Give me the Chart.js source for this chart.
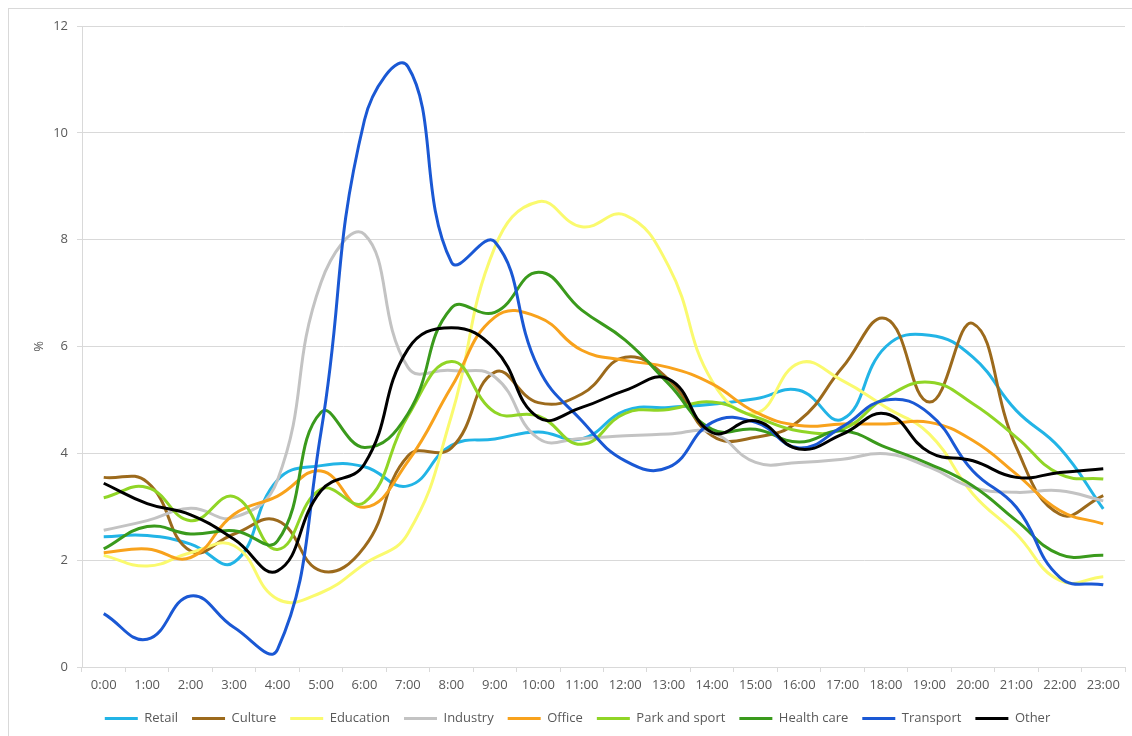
<!DOCTYPE html>
<html><head><meta charset="utf-8">
<script src="https://cdn.jsdelivr.net/npm/chart.js@4.4.1/dist/chart.umd.min.js"></script>
<style>html,body{margin:0;padding:0;background:#fff;}</style>
</head><body>
<canvas id="c" width="1132" height="736"></canvas>
<script>
const hours = ["0:00","1:00","2:00","3:00","4:00","5:00","6:00","7:00","8:00","9:00","10:00","11:00","12:00","13:00","14:00","15:00","16:00","17:00","18:00","19:00","20:00","21:00","22:00","23:00"];
const yTicks = [0,2,4,6,8,10,12];

const retail    = [2.44,2.46,2.30,1.96,3.50,3.77,3.75,3.39,4.15,4.27,4.40,4.27,4.80,4.86,4.92,5.02,5.18,4.64,6.00,6.21,5.80,4.80,4.10,2.96];
const culture   = [3.55,3.46,2.17,2.49,2.74,1.80,2.25,3.95,4.10,5.52,4.95,5.11,5.80,5.38,4.33,4.30,4.61,5.61,6.52,4.96,6.43,4.11,2.86,3.21];
const education = [2.09,1.89,2.14,2.27,1.27,1.39,1.93,2.50,4.70,7.86,8.71,8.24,8.46,7.50,5.35,4.75,5.69,5.36,4.86,4.36,3.24,2.49,1.62,1.69];
const industry  = [2.56,2.74,2.97,2.80,3.50,7.20,8.10,5.61,5.55,5.43,4.28,4.28,4.33,4.36,4.39,3.83,3.83,3.89,3.99,3.74,3.36,3.27,3.30,3.11];
const office    = [2.14,2.21,2.05,2.86,3.20,3.67,2.99,3.85,5.24,6.55,6.55,5.93,5.74,5.61,5.30,4.77,4.52,4.55,4.55,4.58,4.24,3.61,2.93,2.68];
const parkSport = [3.17,3.36,2.74,3.19,2.20,3.33,3.08,4.70,5.72,4.77,4.70,4.17,4.75,4.82,4.96,4.68,4.42,4.45,5.05,5.33,4.93,4.30,3.61,3.52];
const healthCare= [2.21,2.63,2.49,2.55,2.36,4.77,4.11,4.74,6.72,6.64,7.39,6.68,6.12,5.30,4.45,4.45,4.21,4.42,4.11,3.80,3.39,2.74,2.11,2.09];
const transport = [1.00,0.52,1.33,0.74,0.33,4.40,10.24,11.24,7.58,7.96,5.60,4.61,3.86,3.74,4.58,4.58,4.10,4.50,5.00,4.74,3.67,2.99,1.68,1.54];
const other     = [3.44,3.06,2.85,2.39,1.80,3.30,3.80,5.95,6.35,5.95,4.67,4.86,5.18,5.39,4.39,4.61,4.08,4.36,4.74,4.02,3.86,3.55,3.64,3.71];

const seriesNames  = ["Retail","Culture","Education","Industry","Office","Park and sport","Health care","Transport","Other"];
const seriesData   = [retail,culture,education,industry,office,parkSport,healthCare,transport,other];
const seriesColors = ["#22b4e6","#9c6a1c","#fafa6e","#c3c3c3","#f8a21c","#90d526","#3a9a1c","#1a58d4","#000000"];

const datasets = seriesNames.map((n,i)=>({
  label:n, data:seriesData[i], borderColor:seriesColors[i], backgroundColor:seriesColors[i],
  borderWidth:3, pointRadius:0, tension:0.45, fill:false, order:seriesNames.length-i
}));

const frame = {
  id:'frame',
  beforeDraw(chart){
    const c=chart.ctx; c.save(); c.fillStyle='#fff'; c.fillRect(0,0,chart.width,chart.height);
    c.strokeStyle='#d9d9d9'; c.lineWidth=1; c.strokeRect(8.5,8.5,chart.width,chart.height); c.restore();
  }
};

const txt = '#595959';
const fnt = {family:"'Open Sans', 'Noto Sans', sans-serif", size:13};

new Chart(document.getElementById('c'), {
  type:'line',
  data:{labels:hours, datasets},
  plugins:[frame],
  options:{
    responsive:false, animation:false,
    layout:{padding:{top:26,right:7,bottom:1,left:30}},
    plugins:{
      tooltip:{enabled:false},
      legend:{position:'bottom', align:'center',
        labels:{usePointStyle:true, pointStyle:'line', pointStyleWidth:33, color:txt, font:fnt, padding:14,
          sort:(a,b)=>a.datasetIndex-b.datasetIndex}}
    },
    scales:{
      x:{offset:true,
        grid:{display:true, offset:true, drawOnChartArea:false, drawTicks:true, tickLength:5, color:'#d9d9d9'},
        border:{display:true, color:'#d9d9d9'},
        ticks:{color:txt, font:fnt, padding:5, maxRotation:0, autoSkip:false},
        afterFit(s){ s.height = 31; }
      },
      y:{min:0, max:12,
        afterBuildTicks(s){ s.ticks = yTicks.map(v=>({value:v})); },
        grid:{color:'#d9d9d9', tickLength:5},
        border:{display:true, color:'#d9d9d9'},
        ticks:{color:txt, font:fnt, padding:9},
        title:{display:true, text:'%', color:txt, font:fnt, padding:{top:1}},
        afterFit(s){ s.width = 52; }
      }
    }
  }
});
</script>
</body></html>
